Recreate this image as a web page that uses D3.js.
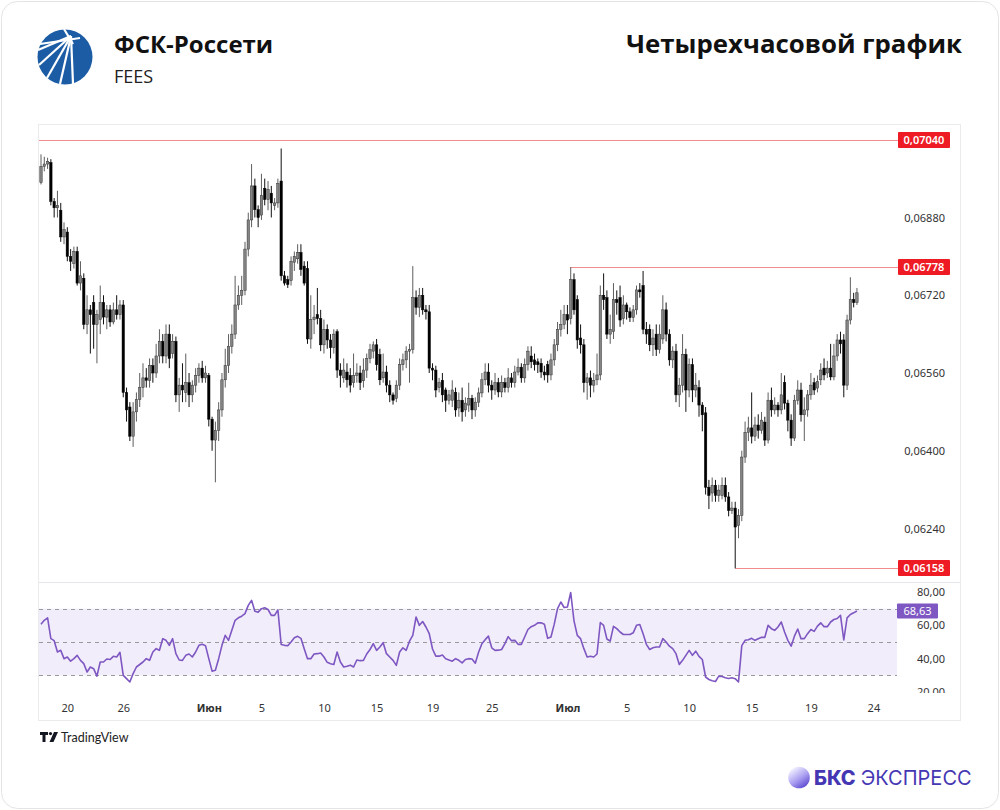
<!DOCTYPE html>
<html>
<head>
<meta charset="utf-8">
<script src="https://cdn.jsdelivr.net/npm/d3@7"></script>
<style>
  body { margin: 0; background: #fff; }
  svg { display: block; }
</style>
</head>
<body>
<svg id="chart" width="1000" height="810"></svg>
<script>
// prices are stored in units of 0.00001 RUB
const PRICE_UNIT = 1e-5;

const opens = [6952,6985,6990,6993,6913,6900,6895,6840,6850,6800,6785,6810,6745,6755,6660,6690,6705,6660,6670,6705,
6675,6690,6665,6690,6680,6700,6520,6490,6430,6480,6505,6530,6550,6545,6575,6560,6595,6625,6595,6640,
6600,6625,6515,6535,6520,6540,6515,6535,6555,6570,6550,6555,6465,6422,6442,6484,6546,6575,6615,6640,
6700,6720,6730,6815,6875,6945,6896,6885,6940,6917,6930,6905,6910,6955,6760,6752,6750,6788,6795,6808,
6780,6775,6630,6670,6680,6672,6618,6650,6628,6612,6645,6566,6550,6562,6555,6540,6555,6560,6544,6566,
6590,6605,6618,6598,6550,6562,6535,6515,6508,6535,6577,6587,6605,6608,6715,6695,6720,6690,6686,6570,
6566,6530,6545,6525,6504,6504,6520,6488,6504,6484,6494,6508,6484,6500,6519,6546,6562,6535,6525,6540,
6521,6540,6530,6550,6540,6562,6572,6550,6577,6595,6587,6583,6580,6562,6577,6556,6587,6618,6650,6660,
6680,6672,6752,6711,6632,6618,6540,6550,6535,6546,6556,6720,6715,6640,6645,6711,6715,6672,6700,6686,
6674,6690,6731,6740,6650,6650,6618,6640,6608,6630,6690,6640,6587,6605,6515,6535,6598,6525,6577,6525,
6530,6494,6478,6325,6313,6329,6308,6308,6329,6305,6277,6282,6246,6267,6387,6438,6447,6430,6453,6442,
6459,6422,6504,6484,6494,6484,6540,6498,6463,6426,6504,6525,6474,6484,6515,6540,6529,6546,6570,6560,
6570,6552,6595,6628,6628,6535,6669,6711,6705];

const highs = [7010,7005,7003,7000,6920,6935,6910,6870,6860,6815,6820,6820,6790,6765,6720,6700,6720,6690,6740,6720,
6700,6700,6705,6720,6710,6710,6530,6500,6500,6520,6560,6580,6570,6590,6590,6620,6650,6640,6660,6660,
6640,6635,6550,6580,6600,6560,6545,6570,6580,6585,6575,6560,6470,6460,6500,6560,6610,6640,6660,6760,
6740,6760,6830,6890,6990,6960,6905,6970,6960,6955,6945,6920,6960,7022,6770,6760,6800,6810,6825,6825,
6790,6790,6720,6700,6735,6690,6670,6660,6640,6650,6650,6580,6590,6580,6570,6600,6580,6575,6590,6600,
6620,6625,6630,6610,6600,6575,6545,6520,6545,6590,6600,6615,6620,6780,6730,6735,6735,6700,6700,6580,
6575,6550,6560,6530,6525,6545,6530,6520,6530,6510,6540,6515,6510,6530,6560,6580,6580,6545,6560,6550,
6555,6550,6570,6560,6575,6590,6580,6590,6615,6615,6600,6590,6590,6575,6585,6600,6630,6665,6690,6700,
6700,6778,6765,6720,6660,6630,6560,6565,6560,6600,6740,6765,6730,6680,6745,6730,6740,6720,6705,6695,
6700,6740,6745,6770,6665,6660,6650,6660,6660,6720,6705,6650,6615,6620,6550,6640,6610,6590,6590,6560,
6545,6500,6490,6340,6345,6340,6330,6345,6345,6315,6295,6295,6280,6400,6460,6470,6520,6470,6475,6480,
6470,6520,6530,6510,6500,6560,6555,6505,6475,6515,6545,6540,6510,6525,6560,6550,6555,6580,6590,6585,
6620,6620,6640,6645,6640,6680,6757,6725,6735];

const lows = [6948,6975,6980,6905,6880,6880,6830,6825,6790,6770,6775,6740,6730,6650,6640,6600,6610,6580,6640,6660,
6650,6655,6660,6670,6670,6510,6460,6420,6408,6460,6490,6510,6530,6530,6540,6550,6580,6580,6580,6570,
6590,6500,6480,6500,6500,6490,6500,6520,6540,6540,6540,6450,6400,6335,6420,6470,6530,6560,6600,6630,
6690,6700,6720,6800,6860,6880,6860,6875,6905,6895,6880,6895,6900,6750,6740,6735,6740,6770,6785,6760,
6740,6620,6610,6640,6660,6605,6600,6610,6590,6600,6550,6530,6540,6530,6520,6530,6540,6525,6530,6550,
6580,6590,6565,6535,6540,6520,6500,6495,6500,6525,6565,6570,6540,6600,6680,6675,6680,6670,6560,6545,
6510,6520,6500,6480,6495,6490,6470,6470,6460,6470,6480,6465,6470,6490,6510,6535,6520,6505,6515,6510,
6510,6520,6520,6530,6530,6555,6540,6540,6565,6570,6565,6560,6550,6545,6540,6545,6575,6605,6635,6650,
6640,6660,6680,6610,6600,6520,6505,6510,6520,6535,6545,6690,6630,6620,6630,6680,6655,6660,6670,6665,
6665,6680,6715,6640,6620,6605,6595,6595,6600,6620,6625,6575,6570,6500,6490,6520,6480,6510,6500,6510,
6470,6440,6310,6280,6295,6295,6295,6300,6295,6265,6270,6158,6220,6255,6375,6420,6415,6420,6425,6435,
6410,6415,6470,6475,6470,6475,6485,6440,6410,6420,6495,6460,6420,6470,6505,6515,6520,6535,6545,6550,
6545,6545,6585,6600,6510,6525,6660,6695,6700];

const closes = [6985,6990,6995,6913,6900,6905,6840,6855,6800,6790,6810,6745,6760,6660,6690,6680,6660,6680,6705,6675,
6690,6665,6690,6680,6700,6520,6484,6430,6480,6505,6530,6550,6545,6575,6560,6595,6625,6595,6640,6590,
6625,6515,6535,6525,6540,6515,6535,6555,6570,6550,6560,6465,6422,6442,6484,6546,6575,6615,6640,6700,
6720,6730,6815,6875,6945,6896,6880,6925,6917,6938,6910,6910,6950,6760,6745,6742,6790,6800,6808,6773,
6745,6630,6670,6675,6672,6618,6650,6628,6612,6640,6566,6555,6566,6546,6535,6555,6560,6540,6566,6590,
6608,6618,6577,6546,6562,6535,6515,6504,6535,6577,6587,6605,6608,6715,6695,6720,6690,6686,6570,6566,
6525,6540,6515,6504,6515,6525,6484,6504,6480,6498,6508,6484,6500,6519,6546,6562,6535,6525,6540,6521,
6540,6530,6550,6540,6562,6572,6550,6577,6605,6583,6577,6577,6562,6556,6556,6587,6618,6650,6660,6680,
6669,6752,6690,6628,6618,6540,6550,6535,6545,6556,6720,6711,6640,6650,6711,6705,6669,6700,6686,6674,
6690,6731,6727,6650,6640,6618,6632,6608,6640,6690,6640,6587,6605,6515,6535,6598,6525,6577,6525,6535,
6494,6474,6325,6308,6329,6308,6319,6329,6305,6277,6282,6243,6267,6387,6438,6447,6430,6453,6442,6463,
6422,6504,6484,6494,6484,6515,6498,6463,6426,6504,6525,6474,6484,6515,6535,6525,6542,6566,6556,6570,
6552,6595,6628,6620,6535,6669,6711,6705,6725];

const rsi = [60.7,63,64.5,52,50.8,44,45,40,41,38.5,40,42,39,37,32,35,34,29.5,38,38,
39.8,39.5,41.4,41,43.8,30,28,26,31,35,36.5,38,40,39,44,46,45,52,51,48,
52,43,39.2,39,42,42.8,41,44,48,48.6,47.8,40,32.5,33,40,48,54,51,57,63,
64.5,65.5,67,72,75,68.5,67.9,70,70.5,69.5,66,66,69.3,48.5,48,47.8,50,52.5,53.4,52.2,
46,40,40,42.8,43,43.4,41,37.8,37,36.5,44,38,35,35.5,36.1,35,39.2,38.8,39,42.8,
45.5,49,45,47,49.6,43,41,39,36,44,46.5,45,50.5,54,65,60,62.3,59,55,45.8,
41.5,41.5,42.2,40,39.2,38.5,40,39,37.5,39.5,40,39.8,37.3,43.8,49,51.4,53.5,46.5,45,45.1,
45.5,49,53.2,50.8,51,48.6,48.6,53,57.5,59.2,60,61.5,61.5,60.7,52.2,53,60.7,70,74,70.7,
71,79.7,62.7,54,52,46,41,41.4,41,42.8,61.7,60,51.8,50.5,59.4,58,56,54.5,54.5,54.5,
55.5,60,60.5,55,48.6,45.5,46.5,47,47,52,50,47.5,46,43,36.5,39,42,45,42,44.5,
41.4,39.5,29,27.5,26.8,26.3,29.5,29.3,28.5,28.1,28.5,28,26,47.8,51,51.4,52.2,51,52,52.8,
52.8,60,58,57,59,62,56,51,47.5,53.5,57.8,52,52,55,57.5,56.4,59.5,61.5,59.2,59.2,
62,63.5,64.1,66,51.2,64.5,66.5,67.5,68.63];

// time axis: label and the candle index it sits on
const tickLabels = ["20", "26", "Июн", "5", "10", "15", "19", "25", "Июл", "5", "10", "15", "19", "24"];
const tickIndex = [8, 25, 51, 67, 86, 102, 119, 137, 160, 178, 197, 216, 234, 253];
const monthTicks = ["Июн", "Июл"];

const priceTicks = [6880, 6720, 6560, 6400, 6240];
const rsiTicks = [80, 60, 40, 20];
const rsiBands = [70, 50, 30];

// marked levels: price and the candle index where the ray starts
const levelPrices = [7040, 6778, 6158];
const levelStart = [0, 161, 211];

const candles = closes.map((c, i) => ({ i, o: opens[i], h: highs[i], l: lows[i], c }));

const fmtPrice = v => d3.format(".5f")(v * PRICE_UNIT).replace(".", ",");
const fmtRsi = v => d3.format(".2f")(v).replace(".", ",");

const svg = d3.select("#chart");
const FONT = "'Noto Sans', 'Open Sans', sans-serif";

// card
svg.append("rect")
    .attr("x", 1.5).attr("y", 1.5).attr("width", 997).attr("height", 807)
    .attr("rx", 16).attr("fill", "#fff").attr("stroke", "#e4e4e4");

// header: company logo
const logo = svg.append("g");
logo.append("circle").attr("cx", 65).attr("cy", 57).attr("r", 27.5).attr("fill", "#1b5ca5");
const rays = [[38, 50], [39, 65], [47, 78], [60, 84], [73, 84]];
logo.selectAll("line.ray").data(rays).join("line")
    .attr("class", "ray")
    .attr("x1", 71).attr("y1", 36)
    .attr("x2", d => d[0]).attr("y2", d => d[1])
    .attr("stroke", "#fff").attr("stroke-width", 2.2);
logo.append("line").attr("x1", 64).attr("y1", 29).attr("x2", 73).attr("y2", 44)
    .attr("stroke", "#fff").attr("stroke-width", 2.2);
logo.append("line").attr("x1", 40).attr("y1", 44).attr("x2", 80).attr("y2", 38)
    .attr("stroke", "#fff").attr("stroke-width", 1.8);

svg.append("text").attr("x", 114).attr("y", 53)
    .attr("font-family", "'Open Sans', sans-serif").attr("font-weight", 700)
    .attr("font-size", 24).attr("fill", "#111").text("ФСК-Россети");
svg.append("text").attr("x", 114).attr("y", 83)
    .attr("font-family", "'Open Sans', sans-serif")
    .attr("font-size", 18).attr("fill", "#222").text("FEES");
svg.append("text").attr("x", 962).attr("y", 53).attr("text-anchor", "end")
    .attr("font-family", "'Open Sans', sans-serif").attr("font-weight", 700)
    .attr("font-size", 25.8).attr("fill", "#111").text("Четырехчасовой график");

// chart frame
const frame = { left: 38.5, right: 960.5, top: 124.5, bottom: 720.5, split: 582.5 };
svg.append("rect")
    .attr("x", frame.left).attr("y", frame.top)
    .attr("width", frame.right - frame.left).attr("height", frame.bottom - frame.top)
    .attr("fill", "#fff").attr("stroke", "#ebebee");
svg.append("line")
    .attr("x1", frame.left).attr("x2", frame.right).attr("y1", frame.split).attr("y2", frame.split)
    .attr("stroke", "#e6e6ea");

// scales
const x = d3.scaleLinear().domain([0, 253]).range([41, 873.4]);
const y = d3.scaleLinear().domain([6240, 6880]).range([528.5, 217.5]);
const yr = d3.scaleLinear().domain([20, 80]).range([692, 592]);

const defs = svg.append("defs");
defs.append("clipPath").attr("id", "clipPrice")
    .append("rect").attr("x", 39).attr("y", 125).attr("width", 921).attr("height", 457);
defs.append("clipPath").attr("id", "clipRsi")
    .append("rect").attr("x", 39).attr("y", 583).attr("width", 921).attr("height", 110);

// price axis
const priceAxis = svg.append("g").attr("transform", "translate(945,0)")
    .call(d3.axisLeft(y).tickValues(priceTicks).tickSize(0).tickPadding(0).tickFormat(fmtPrice));
priceAxis.select(".domain").remove();
priceAxis.selectAll("text")
    .attr("font-family", FONT).attr("font-size", 11).attr("fill", "#333").attr("text-anchor", "end");

// level rays and labels
const levels = levelPrices.map((p, k) => ({ p, s: levelStart[k] }));
const lv = svg.append("g").attr("clip-path", "url(#clipPrice)");
lv.selectAll("line").data(levels).join("line")
    .attr("x1", d => d.s === 0 ? 39 : x(d.s)).attr("x2", 898)
    .attr("y1", d => Math.round(y(d.p)) + 0.5).attr("y2", d => Math.round(y(d.p)) + 0.5)
    .attr("stroke", "#f08c8c").attr("stroke-width", 1);
const lvLab = svg.append("g").selectAll("g").data(levels).join("g")
    .attr("transform", d => `translate(898,${Math.round(y(d.p))})`);
lvLab.append("rect").attr("x", 0).attr("y", -8).attr("width", 52).attr("height", 16)
    .attr("rx", 1).attr("fill", "#ee1b24");
lvLab.append("text").attr("x", 26).attr("y", 4).attr("text-anchor", "middle")
    .attr("font-family", FONT).attr("font-size", 11).attr("font-weight", 600)
    .attr("fill", "#fff").text(d => fmtPrice(d.p));

// candles
const cg = svg.append("g").attr("clip-path", "url(#clipPrice)");
const up = d => d.c >= d.o;
cg.selectAll("line.wick").data(candles).join("line")
    .attr("class", "wick")
    .attr("x1", d => x(d.i)).attr("x2", d => x(d.i))
    .attr("y1", d => y(d.h)).attr("y2", d => y(d.l))
    .attr("stroke", d => up(d) ? "#5e5e5e" : "#111").attr("stroke-width", 1);
cg.selectAll("rect.body").data(candles).join("rect")
    .attr("class", "body")
    .attr("x", d => x(d.i) - 1.2)
    .attr("width", 2.4)
    .attr("y", d => y(Math.max(d.o, d.c)))
    .attr("height", d => Math.max(1, Math.abs(y(d.o) - y(d.c))))
    .attr("fill", d => up(d) ? "#858585" : "#000")
    .attr("stroke", d => up(d) ? "#333" : "#000")
    .attr("stroke-width", 0.5);

// RSI pane
const rg = svg.append("g").attr("clip-path", "url(#clipRsi)");
rg.append("rect")
    .attr("x", 39).attr("width", 858)
    .attr("y", yr(70)).attr("height", yr(30) - yr(70))
    .attr("fill", "#f1edfa");
rg.selectAll("line.band").data(rsiBands).join("line")
    .attr("class", "band")
    .attr("x1", 39).attr("x2", 897)
    .attr("y1", d => Math.round(yr(d)) + 0.5).attr("y2", d => Math.round(yr(d)) + 0.5)
    .attr("stroke", "#9a9a9a").attr("stroke-dasharray", "4,4");
rg.append("path")
    .datum(rsi)
    .attr("fill", "none").attr("stroke", "#7e57c2").attr("stroke-width", 1.6)
    .attr("stroke-linejoin", "round")
    .attr("d", d3.line().x((d, i) => x(i)).y(d => yr(d)));

const rsiAxis = rg.append("g").attr("transform", "translate(945,0)")
    .call(d3.axisLeft(yr).tickValues(rsiTicks).tickSize(0).tickPadding(0).tickFormat(fmtRsi));
rsiAxis.select(".domain").remove();
rsiAxis.selectAll("text")
    .attr("font-family", FONT).attr("font-size", 11).attr("fill", "#333").attr("text-anchor", "end");

const lastRsi = rsi[rsi.length - 1];
const rl = svg.append("g").attr("transform", `translate(897,${Math.round(yr(lastRsi))})`);
rl.append("rect").attr("x", 0).attr("y", -7.5).attr("width", 41).attr("height", 15)
    .attr("rx", 1).attr("fill", "#7e57c2");
rl.append("text").attr("x", 20.5).attr("y", 4).attr("text-anchor", "middle")
    .attr("font-family", FONT).attr("font-size", 11).attr("fill", "#fff").text(fmtRsi(lastRsi));

// time axis
const timeAxis = svg.append("g").attr("transform", "translate(0,704)")
    .call(d3.axisBottom(x).tickValues(tickIndex).tickSize(0).tickPadding(0)
        .tickFormat((d, k) => tickLabels[k]));
timeAxis.select(".domain").remove();
timeAxis.selectAll("text")
    .attr("font-family", FONT).attr("font-size", 11).attr("fill", "#333")
    .attr("font-weight", (d, k) => monthTicks.includes(tickLabels[k]) ? 700 : 400);

// TradingView mark
const tv = svg.append("g").attr("transform", "translate(40,732)");
tv.append("path").attr("d", "M0,0 H8 V3 H5.5 V10 H2.5 V3 H0 Z").attr("fill", "#131722");
tv.append("circle").attr("cx", 10.5).attr("cy", 1.6).attr("r", 1.6).attr("fill", "#131722");
tv.append("path").attr("d", "M14,0 H18 L13.5,10 H9.5 Z").attr("fill", "#131722");
tv.append("text").attr("x", 21).attr("y", 9.5)
    .attr("font-family", "Lato, 'Open Sans', sans-serif").attr("font-size", 12.5)
    .attr("fill", "#222").text("TradingView");

// BKS Express mark
const grad = defs.append("linearGradient").attr("id", "bksGrad")
    .attr("x1", "20%").attr("y1", "10%").attr("x2", "80%").attr("y2", "95%");
grad.append("stop").attr("offset", "0%").attr("stop-color", "#f1efff");
grad.append("stop").attr("offset", "55%").attr("stop-color", "#a79cf0");
grad.append("stop").attr("offset", "100%").attr("stop-color", "#5a48d0");
svg.append("circle").attr("cx", 799).attr("cy", 777.5).attr("r", 10.8).attr("fill", "url(#bksGrad)");
const bks = svg.append("text").attr("x", 814).attr("y", 785)
    .attr("font-family", "Inter, 'Open Sans', sans-serif").attr("font-size", 20).attr("fill", "#4537b3");
bks.append("tspan").attr("font-weight", 800).text("БКС");
bks.append("tspan").attr("font-weight", 400).attr("dx", 5).text("ЭКСПРЕСС");
</script>
</body>
</html>
